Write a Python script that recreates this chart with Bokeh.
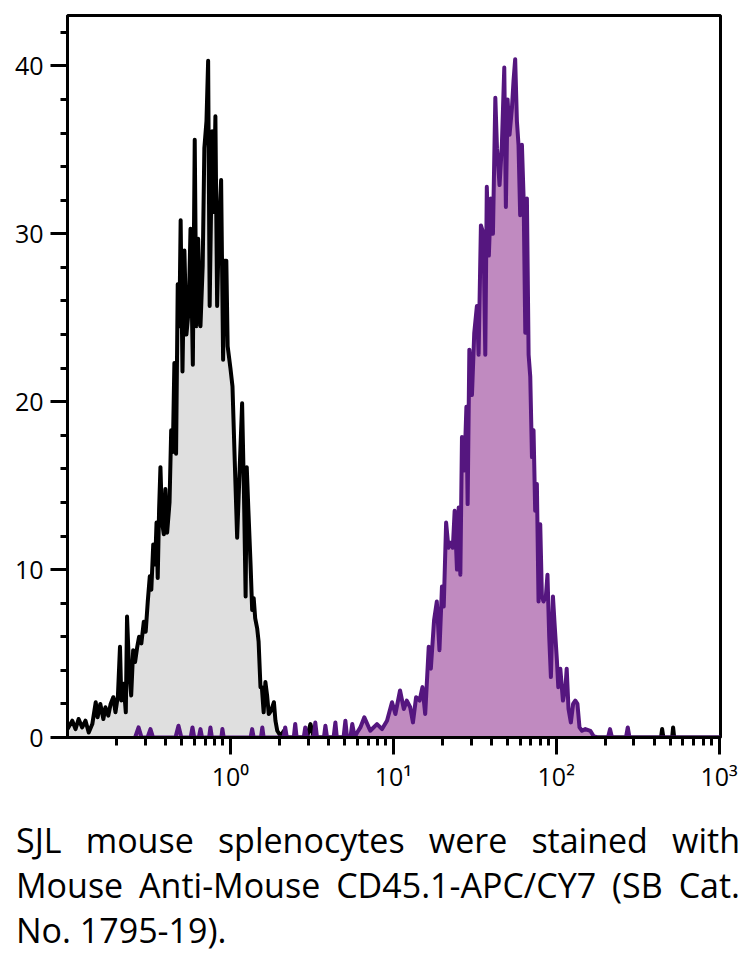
from bokeh.plotting import figure
from bokeh.models import FixedTicker, SingleIntervalTicker, Div, Range1d
from bokeh.layouts import column
from bokeh.embed import file_html
from bokeh.resources import INLINE

# ---- data: unstained control (grey) ----
ctrl_x = [0.100, 0.107, 0.112, 0.117, 0.123, 0.129, 0.135, 0.142, 0.149, 0.153,
          0.159, 0.166, 0.171, 0.178, 0.184, 0.191, 0.197, 0.204, 0.210, 0.214,
          0.221, 0.228, 0.232, 0.239, 0.246, 0.253, 0.260, 0.268, 0.275, 0.284,
          0.294, 0.302, 0.311, 0.320, 0.327, 0.336, 0.345, 0.352, 0.358, 0.365,
          0.372, 0.381, 0.390, 0.399, 0.409, 0.423, 0.433, 0.443, 0.453, 0.464,
          0.475, 0.486, 0.495, 0.508, 0.522, 0.537, 0.555, 0.569, 0.588, 0.604,
          0.618, 0.634, 0.655, 0.676, 0.692, 0.713, 0.730, 0.746, 0.773, 0.790,
          0.809, 0.829, 0.848, 0.877, 0.902, 0.922, 0.944, 0.962, 1.00, 1.03,
          1.06, 1.10, 1.14, 1.18, 1.21, 1.24, 1.26, 1.29, 1.33, 1.36,
          1.39, 1.42, 1.46, 1.49, 1.53, 1.56, 1.60, 1.64, 1.68, 1.72,
          1.78, 1.85, 1.89, 1.94, 2.03, 2.13, 2.23, 2.50, 2.95, 3.10,
          3.25, 440, 447, 455, 515, 522, 530, 1020]
ctrl_y = [0.5, 1.0, 0.5, 1.1, 0.6, 1.0, 0.3, 0.8, 2.1, 1.2,
          2.0, 1.1, 1.8, 1.3, 2.0, 2.4, 1.5, 2.5, 5.4, 2.2,
          3.2, 1.5, 7.2, 4.0, 2.5, 5.2, 4.5, 5.4, 6.0, 5.6,
          6.9, 6.3, 8.1, 9.6, 8.8, 11.5, 10.3, 12.8, 9.5, 13.6,
          16.1, 12.8, 12.1, 14.8, 12.2, 14.0, 18.3, 17.0, 22.3, 16.9,
          27.0, 24.5, 30.8, 21.8, 29.0, 24.0, 25.5, 30.3, 22.2, 35.6,
          24.5, 29.7, 24.5, 28.1, 35.1, 36.7, 40.3, 25.7, 36.1, 31.3,
          37.0, 25.7, 30.0, 33.2, 22.5, 28.4, 28.4, 23.3, 22.0, 20.9,
          16.9, 11.9, 16.0, 19.9, 14.8, 8.4, 16.1, 13.5, 10.3, 7.6,
          8.3, 7.1, 6.5, 5.7, 3.0, 3.0, 1.5, 3.3, 2.5, 1.4,
          1.6, 2.1, 1.0, 0.4, 0.1, 0.4, 0.0, 0.0, 0.0, 0.8,
          0.0, 0.0, 0.5, 0.0, 0.0, 0.6, 0.0, 0.0]

# ---- data: CD45.1-APC/CY7 stained (purple) ----
stain_x = [0.26, 0.273, 0.285, 0.31, 0.323, 0.335, 0.46, 0.48, 0.50, 0.57,
           0.585, 0.60, 0.64, 0.655, 0.67, 0.74, 0.754, 0.77, 0.88, 0.893,
           0.91, 1.33, 1.36, 1.39, 1.54, 1.57, 1.60, 2.12, 2.17, 2.22,
           2.45, 2.50, 2.55, 2.82, 2.88, 2.95, 3.25, 3.32, 3.40, 3.75,
           3.83, 3.92, 4.30, 4.41, 4.50, 4.95, 5.08, 5.20, 5.45, 5.60,
           5.80, 6.00, 6.28, 6.64, 7.22, 7.94, 8.53, 9.15, 9.82, 10.3,
           11.0, 11.6, 12.1, 12.7, 13.2, 13.8, 14.5, 15.1, 15.7, 16.5,
           17.0, 17.8, 18.5, 19.2, 19.9, 20.4, 21.1, 21.8, 22.4, 23.2,
           23.8, 24.6, 25.2, 25.8, 26.4, 27.3, 28.1, 28.6, 29.3, 30.4,
           31.4, 32.6, 33.4, 34.5, 35.8, 36.7, 37.5, 38.6, 39.7, 40.9,
           42.3, 43.3, 44.9, 46.4, 48.0, 49.1, 50.3, 51.7, 53.5, 54.7,
           56.0, 57.4, 58.7, 60.1, 61.6, 63.1, 64.6, 66.1, 67.7, 69.3,
           71.0, 72.6, 74.3, 76.1, 77.9, 79.8, 81.7, 83.6, 86.4, 88.4,
           90.6, 92.8, 95.5, 97.7, 101, 103, 106, 110, 114, 116,
           119, 123, 127, 131, 135, 139, 144, 151, 162, 169,
           180, 208, 214, 220, 268, 275, 282, 1020]
stain_y = [0.0, 0.6, 0.0, 0.0, 0.5, 0.0, 0.0, 0.7, 0.0, 0.0,
           0.6, 0.0, 0.0, 0.5, 0.0, 0.0, 0.6, 0.0, 0.0, 0.5,
           0.0, 0.0, 0.5, 0.0, 0.0, 0.6, 0.0, 0.0, 0.6, 0.0,
           0.0, 0.8, 0.0, 0.0, 0.6, 0.0, 0.0, 0.9, 0.0, 0.0,
           0.7, 0.0, 0.0, 0.9, 0.0, 0.0, 1.0, 0.0, 0.0, 0.8,
           0.0, 0.3, 0.6, 1.2, 0.4, 0.8, 0.5, 1.0, 2.1, 1.4,
           2.8, 1.7, 2.2, 1.8, 0.9, 2.4, 2.2, 3.0, 1.4, 5.4,
           4.1, 7.0, 8.1, 5.2, 9.0, 7.8, 12.8, 11.3, 11.6, 11.3,
           13.5, 10.0, 13.7, 9.7, 17.9, 15.9, 19.7, 13.9, 23.1, 20.4,
           24.1, 25.7, 22.8, 30.5, 30.0, 22.8, 32.8, 28.7, 32.1, 30.0,
           38.1, 35.1, 32.9, 35.3, 39.9, 31.6, 38.0, 35.9, 37.5, 39.1,
           40.4, 36.7, 35.3, 31.1, 35.3, 32.1, 24.1, 32.1, 22.8, 21.5,
           16.7, 18.3, 13.5, 15.1, 8.1, 12.7, 8.4, 8.1, 8.4, 9.7,
           6.0, 3.6, 8.4, 6.8, 4.6, 3.0, 4.1, 2.2, 3.0, 4.1,
           1.7, 0.9, 2.0, 2.2, 2.0, 0.6, 0.4, 0.5, 0.4, 0.1,
           0.0, 0.0, 0.5, 0.0, 0.0, 0.6, 0.0, 0.0]

# ---- axes ----
x_major = [1, 10, 100, 1000]
x_labels = ["10\u2070", "10\u00b9", "10\u00b2", "10\u00b3"]
x_minor = [0.2, 0.3, 0.4, 0.5, 0.6, 0.7, 0.8, 0.9,
           2, 3, 4, 5, 6, 7, 8, 9,
           20, 30, 40, 50, 60, 70, 80, 90,
           200, 300, 400, 500, 600, 700, 800, 900]
x_lim = (0.1, 1020)
y_lim = (0, 43)

caption_lines = ["SJL mouse splenocytes were stained with",
                 "Mouse Anti-Mouse CD45.1-APC/CY7 (SB Cat.",
                 "No. 1795-19)."]

FONT = "Open Sans"

p = figure(width=745, height=795, x_axis_type="log",
           x_range=Range1d(*x_lim), y_range=Range1d(*y_lim),
           output_backend="svg", toolbar_location=None,
           min_border_left=67, min_border_right=25,
           min_border_top=15, min_border_bottom=58)
p.grid.visible = False
p.outline_line_color = "black"
p.outline_line_width = 3
p.outline_line_alpha = 1.0
p.background_fill_color = "white"
p.border_fill_color = "white"

p.varea(x=ctrl_x, y1=0, y2=ctrl_y, fill_color="#dfdfdf")
p.line(ctrl_x, ctrl_y, line_color="black", line_width=4, line_join="round")
p.varea(x=stain_x, y1=0, y2=stain_y, fill_color="#c08ac0")
p.line(stain_x, stain_y, line_color="#55167f", line_width=4, line_join="round")

for ax in (p.xaxis[0], p.yaxis[0]):
    ax.axis_line_width = 3
    ax.axis_line_color = "black"
    ax.major_tick_line_width = 3
    ax.minor_tick_line_width = 3
    ax.major_tick_line_color = "black"
    ax.minor_tick_line_color = "black"
    ax.major_tick_in = 0
    ax.minor_tick_in = 0
    ax.major_tick_out = 17
    ax.minor_tick_out = 8
    ax.major_label_text_font = FONT
    ax.major_label_text_font_size = "25px"
    ax.major_label_text_color = "black"

p.xaxis.ticker = FixedTicker(ticks=x_major, minor_ticks=x_minor)
p.xaxis.major_label_overrides = dict(zip(x_major, x_labels))
p.xaxis.major_label_standoff = 4
p.yaxis.ticker = SingleIntervalTicker(interval=10, num_minor_ticks=5)
p.yaxis.minor_tick_out = 7
p.yaxis.major_label_standoff = 7

html = "".join(
    '<div style="width:724px;text-align:justify;text-align-last:justify;">%s</div>' % l
    for l in caption_lines[:-1]
) + '<div style="width:724px;text-align:left;">%s</div>' % caption_lines[-1]

cap = Div(text=html, width=726, margin=(23, 0, 0, 16),
          styles={"font-family": "'Open Sans'", "font-size": "34px",
                  "line-height": "45px", "color": "black"})

layout = column(p, cap)
open("out.html", "w").write(file_html(layout, INLINE))
